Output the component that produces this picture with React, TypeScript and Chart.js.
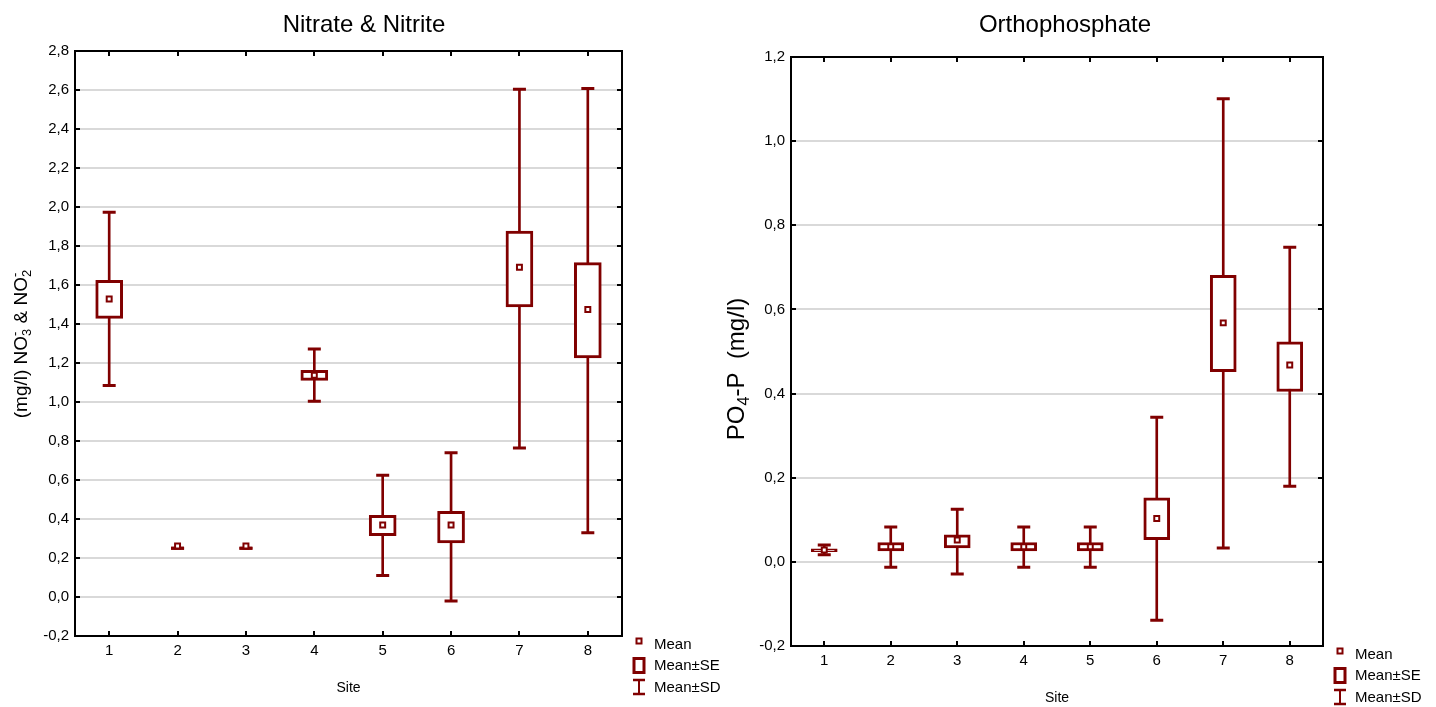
import React, { useEffect, useRef } from 'react';
import { Chart, registerables } from 'chart.js';

Chart.register(...registerables);

// ---------- data ----------
const sites = ['1', '2', '3', '4', '5', '6', '7', '8'];

// Nitrate & Nitrite (mg/l)
const no3Mean = [1.528, 0.262, 0.262, 1.137, 0.369, 0.369, 1.691, 1.474];
const no3SeLow = [1.429, 0.25, 0.25, 1.111, 0.315, 0.277, 1.487, 1.226];
const no3SeHigh = [1.624, 0.25, 0.25, 1.163, 0.419, 0.439, 1.877, 1.715];
const no3SdLow = [1.084, 0.25, 0.25, 1.004, 0.11, -0.021, 0.764, 0.33];
const no3SdHigh = [1.973, 0.25, 0.25, 1.272, 0.624, 0.74, 2.604, 2.608];
const no3Ticks = [-0.2, 0, 0.2, 0.4, 0.6, 0.8, 1.0, 1.2, 1.4, 1.6, 1.8, 2.0, 2.2, 2.4, 2.6, 2.8];

// Orthophosphate PO4-P (mg/l)
const po4Mean = [0.028, 0.036, 0.052, 0.036, 0.036, 0.103, 0.568, 0.468];
const po4SeLow = [0.024, 0.026, 0.033, 0.026, 0.026, 0.053, 0.452, 0.405];
const po4SeHigh = [0.031, 0.046, 0.064, 0.046, 0.046, 0.152, 0.681, 0.523];
const po4SdLow = [0.017, -0.013, -0.029, -0.013, -0.013, -0.139, 0.033, 0.18];
const po4SdHigh = [0.04, 0.083, 0.125, 0.083, 0.083, 0.344, 1.101, 0.748];
const po4Ticks = [-0.2, 0, 0.2, 0.4, 0.6, 0.8, 1.0, 1.2];

const legendLabels = ['Mean', 'Mean\u00b1SE', 'Mean\u00b1SD'];

// ---------- styling ----------
const MAROON = '#800000';
const FONT = '"Liberation Sans", Arial, Helvetica, sans-serif';
const H = 707;

type Seg = { t: string; k?: 'sub' | 'sup' | 'subsup'; sub?: string; sup?: string };

const fmt = (v: number) => {
  const s = (Math.round(v * 10) / 10).toFixed(1).replace('.', ',');
  return s === '-0,0' ? '0,0' : s;
};

interface PanelCfg {
  width: number;
  title: string;
  titleX: number;
  yTitle: Seg[];
  yTitleX: number;
  yTitleY: number | null;
  yTitleSize: number;
  area: { left: number; right: number; top: number; bottom: number };
  ticks: number[];
  min: number;
  max: number;
  mean: number[];
  seLow: number[];
  seHigh: number[];
  sdLow: number[];
  sdHigh: number[];
  boxWidth: number;
}

function drawRich(ctx: CanvasRenderingContext2D, segs: Seg[], size: number) {
  const small = size * 0.68;
  const big = `${size}px ${FONT}`;
  const sm = `${small}px ${FONT}`;
  let total = 0;
  const widths: number[] = [];
  for (const s of segs) {
    if (s.k === 'subsup') {
      ctx.font = sm;
      const w = Math.max(ctx.measureText(s.sub || '').width, ctx.measureText(s.sup || '').width);
      widths.push(w);
      total += w;
    } else {
      ctx.font = s.k ? sm : big;
      const w = ctx.measureText(s.t).width;
      widths.push(w);
      total += w;
    }
  }
  let x = -total / 2;
  ctx.textBaseline = 'alphabetic';
  ctx.textAlign = 'left';
  const base = size * 0.36;
  segs.forEach((s, i) => {
    if (s.k === 'subsup') {
      ctx.font = sm;
      ctx.fillText(s.sub || '', x, base + size * 0.22);
      ctx.fillText(s.sup || '', x, base - size * 0.42);
    } else if (s.k === 'sub') {
      ctx.font = sm;
      ctx.fillText(s.t, x, base + size * 0.22);
    } else {
      ctx.font = big;
      ctx.fillText(s.t, x, base);
    }
    x += widths[i];
  });
}

function makeDecor(cfg: PanelCfg) {
  return {
    id: 'decor',
    afterDraw(chart: any) {
      const { ctx, chartArea: a, scales } = chart;
      const xs = scales.x;
      const ys = scales.y;
      ctx.save();
      // frame
      ctx.strokeStyle = '#000';
      ctx.lineWidth = 2;
      ctx.strokeRect(a.left, a.top, a.right - a.left, a.bottom - a.top);
      // inner ticks
      ctx.beginPath();
      ys.ticks.forEach((_t: any, i: number) => {
        const py = Math.round(ys.getPixelForTick(i));
        ctx.moveTo(a.left, py);
        ctx.lineTo(a.left + 5, py);
        ctx.moveTo(a.right, py);
        ctx.lineTo(a.right - 5, py);
      });
      xs.ticks.forEach((_t: any, i: number) => {
        const px = Math.round(xs.getPixelForTick(i));
        ctx.moveTo(px, a.bottom);
        ctx.lineTo(px, a.bottom - 5);
        ctx.moveTo(px, a.top);
        ctx.lineTo(px, a.top + 5);
      });
      ctx.stroke();

      // title
      ctx.fillStyle = '#000';
      ctx.font = `24px ${FONT}`;
      ctx.textAlign = 'center';
      ctx.textBaseline = 'alphabetic';
      ctx.fillText(cfg.title, cfg.titleX, 32);

      // x title
      ctx.font = `14px ${FONT}`;
      ctx.textBaseline = 'middle';
      ctx.fillText('Site', (a.left + a.right) / 2, a.bottom + 52);

      // y title
      ctx.save();
      ctx.translate(cfg.yTitleX, cfg.yTitleY ?? (a.top + a.bottom) / 2);
      ctx.rotate(-Math.PI / 2);
      drawRich(ctx, cfg.yTitle, cfg.yTitleSize);
      ctx.restore();

      // legend
      const lx = a.right + 17;
      const tx = a.right + 32;
      ctx.strokeStyle = MAROON;
      ctx.fillStyle = '#fff';
      ctx.lineWidth = 2;
      ctx.fillRect(lx - 2.5, a.bottom + 2.5, 5, 5);
      ctx.strokeRect(lx - 2.5, a.bottom + 2.5, 5, 5);
      ctx.lineWidth = 3;
      ctx.strokeRect(lx - 5, a.bottom + 22.5, 10, 14);
      ctx.lineWidth = 2;
      ctx.beginPath();
      ctx.moveTo(lx, a.bottom + 44);
      ctx.lineTo(lx, a.bottom + 58);
      ctx.stroke();
      ctx.lineWidth = 2.5;
      ctx.beginPath();
      ctx.moveTo(lx - 6, a.bottom + 44);
      ctx.lineTo(lx + 6, a.bottom + 44);
      ctx.moveTo(lx - 6, a.bottom + 58);
      ctx.lineTo(lx + 6, a.bottom + 58);
      ctx.stroke();
      ctx.fillStyle = '#000';
      ctx.font = `15px ${FONT}`;
      ctx.textAlign = 'left';
      ctx.textBaseline = 'middle';
      const rows = [a.bottom + 8.5, a.bottom + 30, a.bottom + 52.3];
      legendLabels.forEach((l, i) => ctx.fillText(l, tx, rows[i]));
      ctx.restore();
    },
  };
}

function Panel({ cfg, left }: { cfg: PanelCfg; left: number }) {
  const ref = useRef<HTMLCanvasElement | null>(null);
  useEffect(() => {
    if (!ref.current) return;
    const a = cfg.area;
    const chart = new Chart(ref.current, {
      type: 'bar',
      data: {
        labels: sites,
        datasets: [
          {
            type: 'bar',
            label: 'SD',
            data: cfg.sdLow.map((l, i) => [l, cfg.sdHigh[i]]) as any,
            backgroundColor: MAROON,
            borderWidth: 0,
            barThickness: 2,
            grouped: false,
            order: 4,
          } as any,
          {
            type: 'bar',
            label: 'SE',
            data: cfg.seLow.map((l, i) => [l, cfg.seHigh[i]]) as any,
            backgroundColor: '#ffffff',
            borderColor: MAROON,
            borderWidth: 3,
            borderSkipped: false,
            barThickness: cfg.boxWidth,
            grouped: false,
            order: 3,
          } as any,
          {
            type: 'line',
            label: 'SD high',
            data: cfg.sdHigh,
            showLine: false,
            pointStyle: 'line',
            pointRadius: 6.5,
            pointHoverRadius: 6.5,
            pointBorderWidth: 3,
            pointBorderColor: MAROON,
            order: 2,
          } as any,
          {
            type: 'line',
            label: 'SD low',
            data: cfg.sdLow,
            showLine: false,
            pointStyle: 'line',
            pointRadius: 6.5,
            pointHoverRadius: 6.5,
            pointBorderWidth: 3,
            pointBorderColor: MAROON,
            order: 2,
          } as any,
          {
            type: 'line',
            label: 'Mean',
            data: cfg.mean,
            showLine: false,
            pointStyle: 'rect',
            pointRadius: 3.5,
            pointHoverRadius: 3.5,
            pointBorderWidth: 2,
            pointBorderColor: MAROON,
            pointBackgroundColor: '#ffffff',
            order: 1,
          } as any,
        ],
      },
      options: {
        animation: false,
        responsive: false,
        events: [],
        layout: { padding: { left: 0, top: a.top, right: cfg.width - a.right, bottom: 0 } },
        plugins: { legend: { display: false }, title: { display: false }, tooltip: { enabled: false } },
        scales: {
          x: {
            type: 'category',
            offset: true,
            grid: { display: false, drawTicks: false },
            border: { display: false },
            ticks: { color: '#000', padding: 6, font: { size: 15, family: FONT } },
            afterFit: (s: any) => {
              s.height = H - a.bottom;
            },
          },
          y: {
            type: 'linear',
            min: cfg.min,
            max: cfg.max,
            afterBuildTicks: (s: any) => {
              s.ticks = cfg.ticks.map((v) => ({ value: v }));
            },
            afterFit: (s: any) => {
              s.width = a.left;
            },
            grid: { color: '#d9d9d9', lineWidth: 2, drawTicks: false },
            border: { display: false },
            ticks: {
              color: '#000',
              padding: 6,
              autoSkip: false,
              font: { size: 15, family: FONT },
              callback: (v: any) => fmt(Number(v)),
            },
          },
        },
      } as any,
      plugins: [makeDecor(cfg) as any],
    });
    return () => chart.destroy();
  }, [cfg]);
  return (
    <canvas
      ref={ref}
      width={cfg.width}
      height={H}
      style={{ position: 'absolute', left, top: 0, width: cfg.width, height: H, display: 'block' }}
    />
  );
}

const leftCfg: PanelCfg = {
  width: 730,
  title: 'Nitrate & Nitrite',
  titleX: 364,
  yTitle: [
    { t: '(mg/l) NO' },
    { t: '', k: 'subsup', sub: '3', sup: '-' },
    { t: ' & NO' },
    { t: '', k: 'subsup', sub: '2', sup: '-' },
  ],
  yTitleX: 20,
  yTitleY: 344,
  yTitleSize: 19,
  area: { left: 75, right: 622, top: 51, bottom: 636 },
  ticks: no3Ticks,
  min: -0.2,
  max: 2.8,
  mean: no3Mean,
  seLow: no3SeLow,
  seHigh: no3SeHigh,
  sdLow: no3SdLow,
  sdHigh: no3SdHigh,
  boxWidth: 27,
};

const rightCfg: PanelCfg = {
  width: 718,
  title: 'Orthophosphate',
  titleX: 347,
  yTitle: [{ t: 'PO' }, { t: '4', k: 'sub' }, { t: '-P  (mg/l)' }],
  yTitleX: 17,
  yTitleY: 369,
  yTitleSize: 24,
  area: { left: 73, right: 605, top: 57, bottom: 646 },
  ticks: po4Ticks,
  min: -0.2,
  max: 1.2,
  mean: po4Mean,
  seLow: po4SeLow,
  seHigh: po4SeHigh,
  sdLow: po4SdLow,
  sdHigh: po4SdHigh,
  boxWidth: 26,
};

export default function App() {
  return (
    <div style={{ position: 'fixed', left: 0, top: 0, width: 1436, height: 707, background: '#fff' }}>
      <Panel cfg={leftCfg} left={0} />
      <Panel cfg={rightCfg} left={718} />
    </div>
  );
}
